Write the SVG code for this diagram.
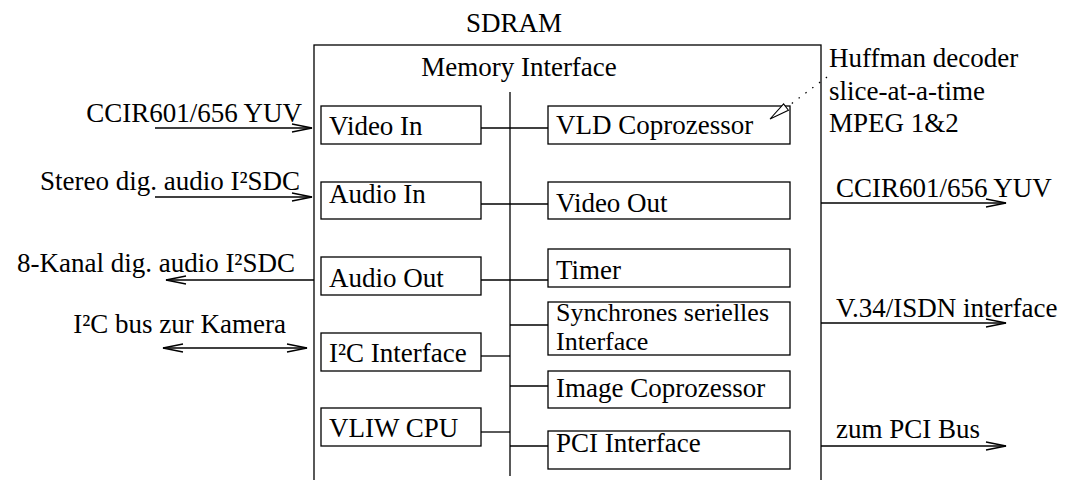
<svg xmlns="http://www.w3.org/2000/svg" width="1068" height="480" viewBox="0 0 1068 480">
<defs>
<style>
.t{font-family:'Liberation Serif','DejaVu Serif',serif;font-size:27px;fill:#000}
.s{font-size:26px}
.box{fill:#fff;stroke:#000;stroke-width:1.3}
.ln{fill:none;stroke:#000;stroke-width:1.3}
.end{text-anchor:end}
.mid{text-anchor:middle}
</style>
<marker id="arr" markerUnits="userSpaceOnUse" markerWidth="24" markerHeight="12" refX="21" refY="5" orient="auto-start-reverse" viewBox="0 0 24 12">
<path d="M1,1 L21,5 L1,9" fill="none" stroke="#000" stroke-width="1.3"/>
</marker>
</defs>
<rect width="1068" height="480" fill="#fff"/>
<g id="sdram">
<rect class="box" x="314" y="45" width="507" height="460"/>
<text class="t mid" x="514" y="32">SDRAM</text>
<text class="t mid" x="519" y="76">Memory Interface</text>
</g>
<g id="video-in"><rect class="box" x="321" y="106" width="160" height="38"/><text class="t" x="329" y="135">Video In</text></g>
<g id="audio-in"><rect class="box" x="321" y="182" width="160" height="37"/><text class="t" x="329" y="203">Audio In</text></g>
<g id="audio-out"><rect class="box" x="321" y="257" width="160" height="38"/><text class="t" x="329" y="287">Audio Out</text></g>
<g id="i2c-interface"><rect class="box" x="321" y="333" width="160" height="38"/><text class="t" x="329" y="362">I²C Interface</text></g>
<g id="vliw-cpu"><rect class="box" x="321" y="408" width="160" height="38"/><text class="t" x="329" y="437">VLIW CPU</text></g>
<g id="vld"><rect class="box" x="548" y="106" width="242" height="38"/><text class="t" x="556" y="134">VLD Coprozessor</text></g>
<g id="video-out"><rect class="box" x="548" y="182" width="242" height="37"/><text class="t" x="556" y="212">Video Out</text></g>
<g id="timer"><rect class="box" x="548" y="249" width="242" height="38"/><text class="t" x="556" y="279">Timer</text></g>
<g id="sync"><rect class="box" x="548" y="302" width="242" height="53"/><text class="t s" x="556" y="321">Synchrones serielles</text><text class="t s" x="556" y="350">Interface</text></g>
<g id="image-copro"><rect class="box" x="548" y="371" width="242" height="37"/><text class="t" x="556" y="397">Image Coprozessor</text></g>
<g id="pci"><rect class="box" x="548" y="431" width="242" height="38"/><text class="t" x="556" y="452">PCI Interface</text></g>
<g id="connectors">
<line class="ln" x1="510" y1="92" x2="510" y2="476"/>
<line class="ln" x1="481" y1="128" x2="548" y2="128"/>
<line class="ln" x1="481" y1="204" x2="548" y2="204"/>
<line class="ln" x1="481" y1="280" x2="548" y2="280"/>
<line class="ln" x1="481" y1="356" x2="510" y2="356"/>
<line class="ln" x1="481" y1="432" x2="510" y2="432"/>
<line class="ln" x1="510" y1="325" x2="548" y2="325"/>
<line class="ln" x1="510" y1="386" x2="548" y2="386"/>
<line class="ln" x1="510" y1="446" x2="548" y2="446"/>
<line class="ln" x1="155" y1="128" x2="312" y2="128" marker-end="url(#arr)"/>
<line class="ln" x1="155" y1="197" x2="312" y2="197" marker-end="url(#arr)"/>
<line class="ln" x1="314" y1="280" x2="166" y2="280" marker-end="url(#arr)"/>
<line class="ln" x1="163" y1="348" x2="307" y2="348" marker-start="url(#arr)" marker-end="url(#arr)"/>
<line class="ln" x1="821" y1="203" x2="1006" y2="203" marker-end="url(#arr)"/>
<line class="ln" x1="821" y1="323" x2="1006" y2="323" marker-end="url(#arr)"/>
<line class="ln" x1="821" y1="446" x2="1006" y2="446" marker-end="url(#arr)"/>
<line x1="827" y1="77" x2="787" y2="107" fill="none" stroke="#000" stroke-width="1.3" stroke-dasharray="1.5 7"/>
<polygon points="770,119 788.4,110.2 783.6,103.8" fill="#fff" stroke="#000" stroke-width="1.1"/>
</g>
<g id="labels">
<text class="t end" x="302" y="122">CCIR601/656 YUV</text>
<text class="t end" x="300" y="190">Stereo dig. audio I²SDC</text>
<text class="t end" x="295" y="272">8-Kanal dig. audio I²SDC</text>
<text class="t end" x="286" y="333">I²C bus zur Kamera</text>
<text class="t" x="836" y="197">CCIR601/656 YUV</text>
<text class="t" x="836" y="317">V.34/ISDN interface</text>
<text class="t" x="836" y="438">zum PCI Bus</text>
<text class="t" x="829" y="67">Huffman decoder</text>
<text class="t" x="829" y="100">slice-at-a-time</text>
<text class="t" x="829" y="132">MPEG 1&amp;2</text>
</g>
</svg>
